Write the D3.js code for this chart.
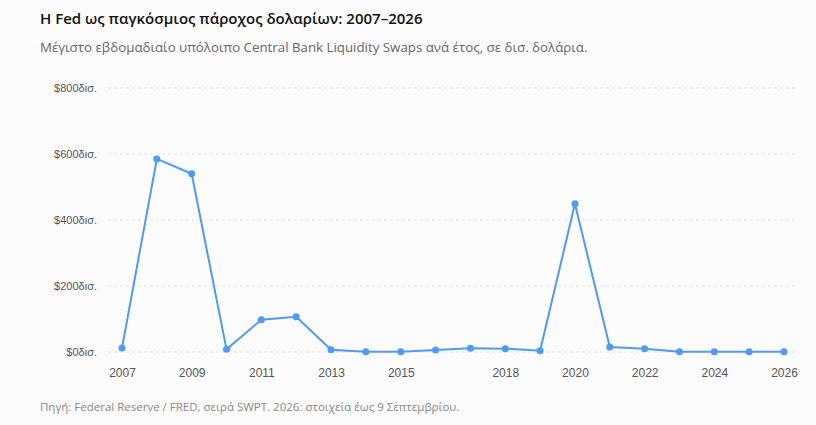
<!DOCTYPE html>
<html><head><meta charset="utf-8">
<script src="https://cdn.jsdelivr.net/npm/d3@7"></script>
<style>body{margin:0;background:#fcfcfc;font-family:"Segoe UI","Open Sans","Noto Sans",sans-serif;}</style>
</head><body><svg id="c" width="816" height="425"></svg>
<script>
const years=[2007,2008,2009,2010,2011,2012,2013,2014,2015,2016,2017,2018,2019,2020,2021,2022,2023,2024,2025,2026];
const values=[12,585,540,8,98,107,7,1,1,6,11,10,4,449,15,10,1,1,0.5,0.5];
const xTicks=[2007,2009,2011,2013,2015,2018,2020,2022,2024,2026];
const yTicks=[0,200,400,600,800];
const svg=d3.select("#c");
svg.append("rect").attr("width",816).attr("height",425).attr("fill","#fcfcfc");
const x=d3.scaleLinear().domain([2007,2026]).range([122,784]);
const y=d3.scaleLinear().domain([0,800]).range([352,88]);
svg.append("text").attr("x",40).attr("y",24).attr("font-size",15).attr("font-weight",600).attr("fill","#111").text("Η Fed ως παγκόσμιος πάροχος δολαρίων: 2007–2026");
svg.append("text").attr("x",40).attr("y",52).attr("font-size",13.3).attr("fill","#666").text("Μέγιστο εβδομαδιαίο υπόλοιπο Central Bank Liquidity Swaps ανά έτος, σε δισ. δολάρια.");
const ya=svg.append("g").attr("transform","translate(105,0)").call(d3.axisLeft(y).tickValues(yTicks).tickSize(0).tickPadding(8).tickFormat(d=>"$"+d+"δισ."));
ya.select(".domain").remove();
ya.selectAll("text").attr("font-size",11).attr("fill","#555").attr("font-family","inherit");
svg.append("g").selectAll("line").data(yTicks).join("line").attr("x1",108).attr("x2",796).attr("y1",d=>y(d)).attr("y2",d=>y(d)).attr("stroke","#e3e3e3").attr("stroke-dasharray","3,3");
const xa=svg.append("g").attr("transform","translate(0,360)").call(d3.axisBottom(x).tickValues(xTicks).tickSize(0).tickPadding(8).tickFormat(d3.format("d")));
xa.select(".domain").remove();
xa.selectAll("text").attr("font-size",12).attr("fill","#555").attr("font-family","inherit");
const data=years.map((t,i)=>[t,values[i]]);
svg.append("path").datum(data).attr("fill","none").attr("stroke","#4f9af5").attr("stroke-width",2).attr("d",d3.line().x(d=>x(d[0])).y(d=>y(d[1])));
svg.append("g").selectAll("circle").data(data).join("circle").attr("cx",d=>x(d[0])).attr("cy",d=>y(d[1])).attr("r",3.5).attr("fill","#4f9af5");
svg.append("text").attr("x",40).attr("y",411).attr("font-size",11.5).attr("fill","#888").text("Πηγή: Federal Reserve / FRED, σειρά SWPT. 2026: στοιχεία έως 9 Σεπτεμβρίου.");
</script></body></html>
